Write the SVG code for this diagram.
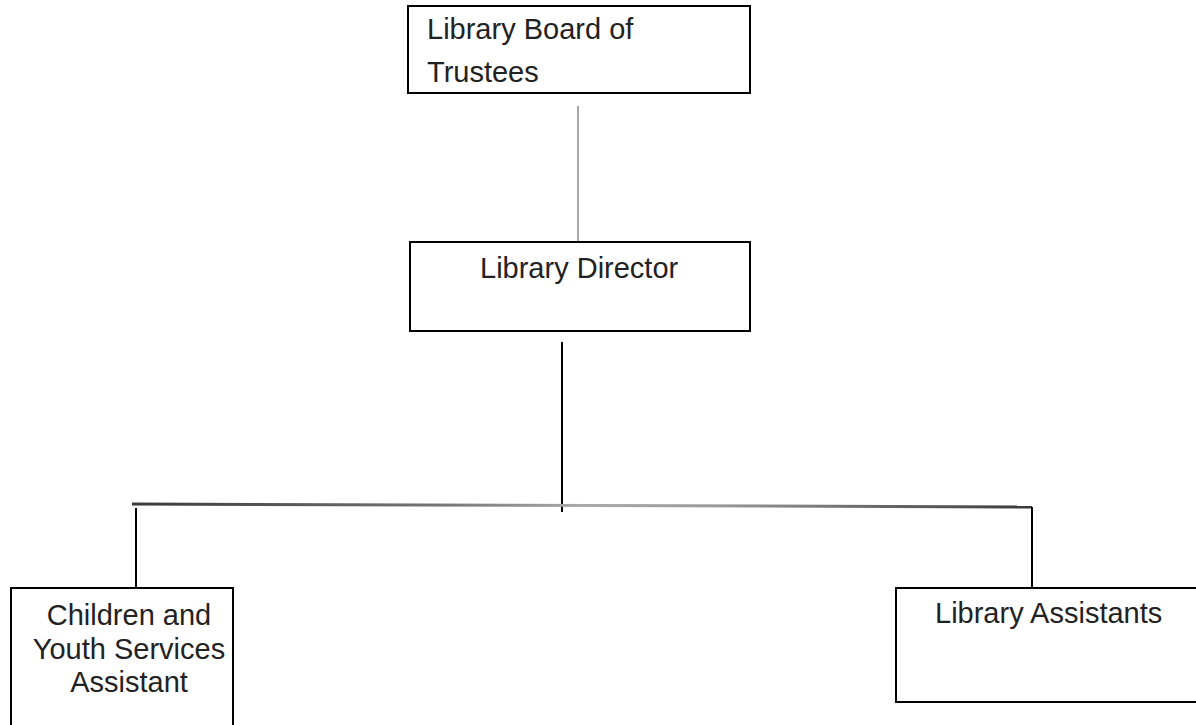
<svg xmlns="http://www.w3.org/2000/svg" width="1196" height="725" viewBox="0 0 1196 725">
<defs>
<style>
.box{fill:#fff;stroke:#000;stroke-width:2}
.t{font-family:"Liberation Sans",Arial,sans-serif;font-size:29px;fill:#222}
.c{stroke:#000;stroke-width:2;fill:none}
</style>
<linearGradient id="bar" gradientUnits="userSpaceOnUse" x1="132" y1="0" x2="1032" y2="0">
<stop offset="0" stop-color="#3a3a3a"/>
<stop offset="0.35" stop-color="#777"/>
<stop offset="0.5" stop-color="#aaa"/>
<stop offset="0.65" stop-color="#999"/>
<stop offset="1" stop-color="#3a3a3a"/>
</linearGradient>
</defs>
<rect width="1196" height="725" fill="#fff"/>
<g id="connectors">
<line x1="578" y1="106" x2="578" y2="242" stroke="#777" stroke-width="1.3"/>
<line class="c" x1="562" y1="342" x2="562" y2="512"/>
<line x1="132" y1="504" x2="1032" y2="507" stroke="url(#bar)" stroke-width="3"/>
<line class="c" x1="136" y1="508" x2="136" y2="588"/>
<line class="c" x1="1032" y1="507" x2="1032" y2="588"/>
</g>
<g id="board">
<rect class="box" x="408" y="6" width="342" height="87"/>
<text class="t" x="427" y="39">Library Board of</text>
<text class="t" x="427" y="82">Trustees</text>
</g>
<g id="director">
<rect class="box" x="410" y="242" width="340" height="89"/>
<text class="t" x="480" y="278">Library Director</text>
</g>
<g id="children">
<rect class="box" x="11" y="588" width="222" height="150"/>
<text class="t" x="129" y="625" text-anchor="middle">Children and</text>
<text class="t" x="129" y="659" text-anchor="middle">Youth Services</text>
<text class="t" x="129" y="692" text-anchor="middle">Assistant</text>
</g>
<g id="assistants">
<rect class="box" x="896" y="588" width="320" height="114"/>
<text class="t" x="935" y="623">Library Assistants</text>
</g>
</svg>
